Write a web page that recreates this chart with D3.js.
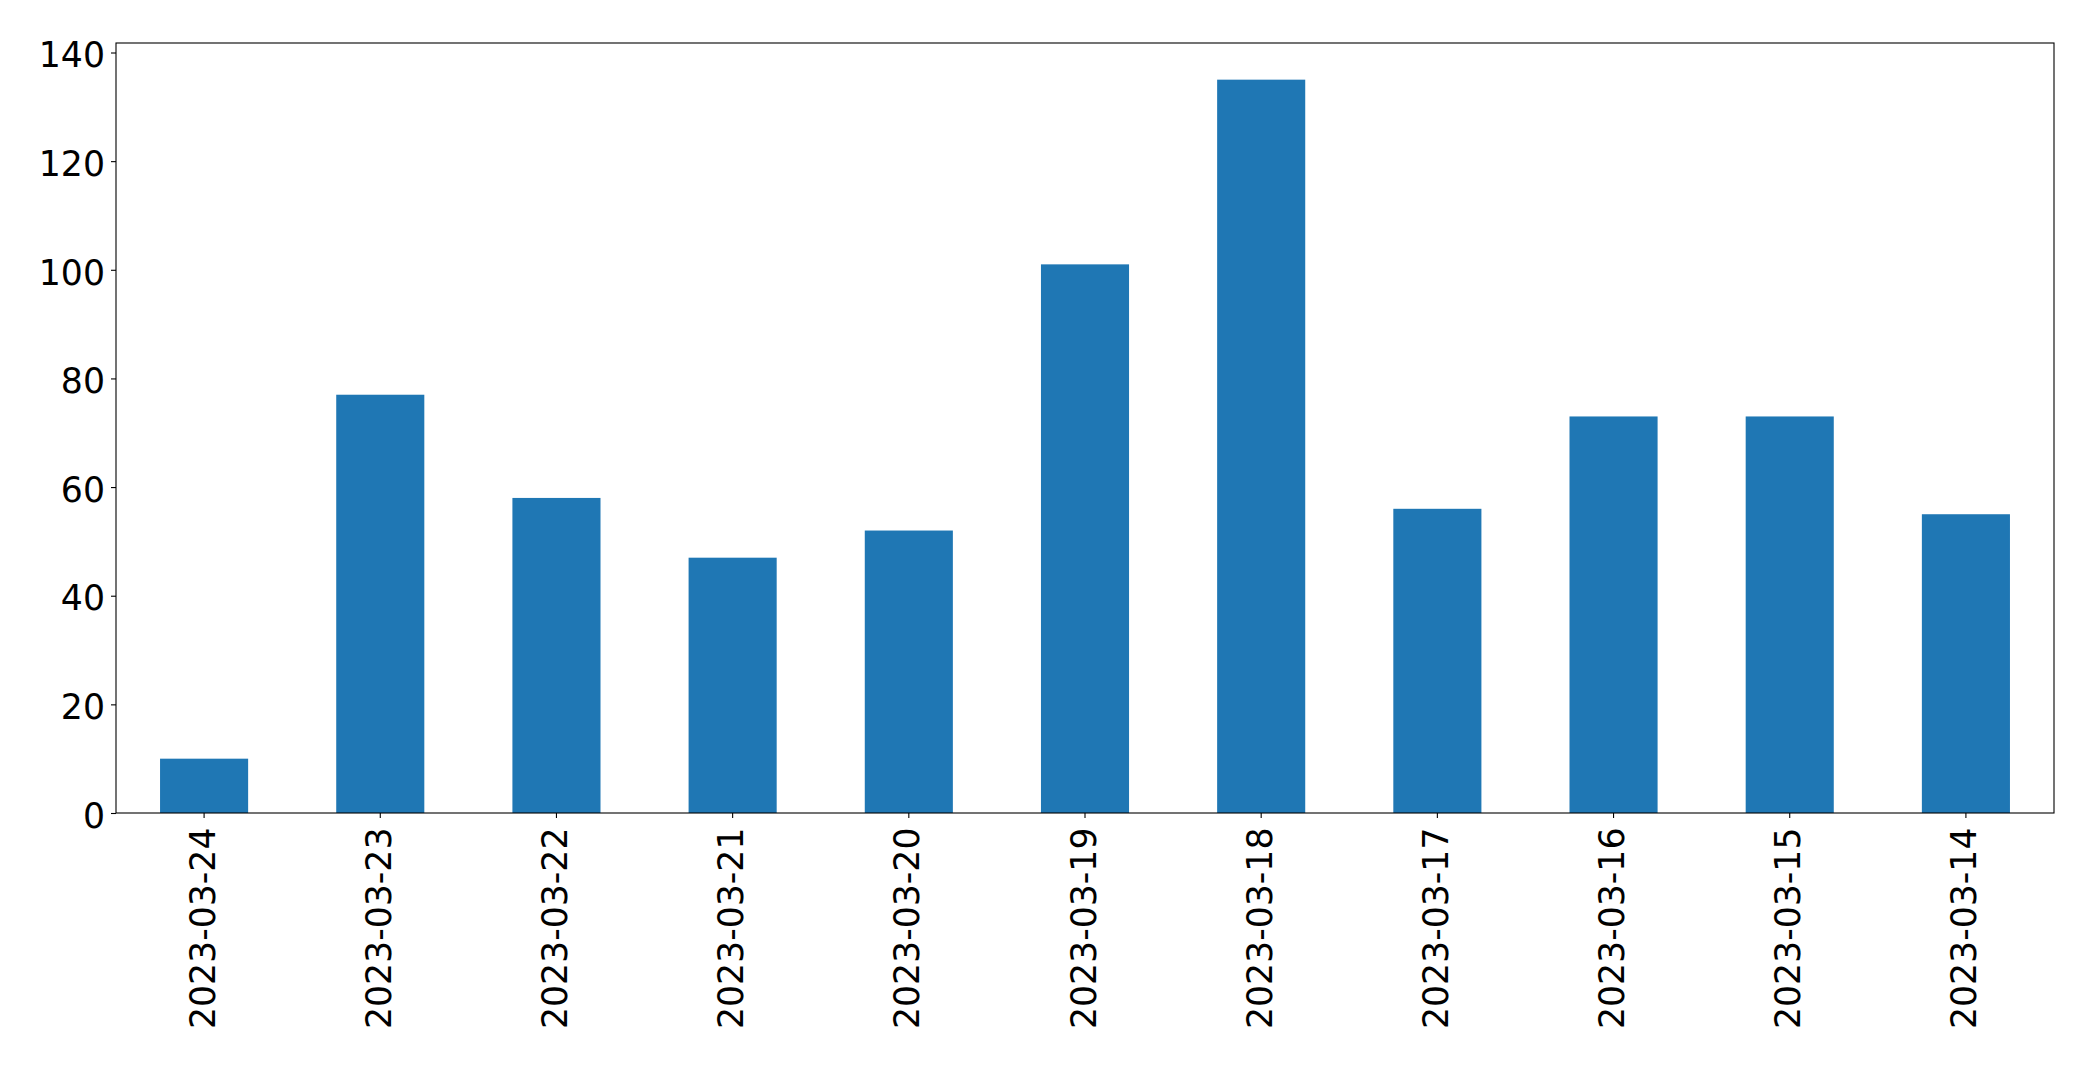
<!DOCTYPE html>
<html>
<head>
<meta charset="utf-8">
<script src="https://cdn.jsdelivr.net/npm/d3@7"></script>
<style>
  html, body { margin: 0; padding: 0; background: #fff; }
  svg { display: block; }
</style>
</head>
<body>
<svg id="chart" width="2093" height="1065"></svg>
<script>
const categories = ["2023-03-24","2023-03-23","2023-03-22","2023-03-21","2023-03-20","2023-03-19","2023-03-18","2023-03-17","2023-03-16","2023-03-15","2023-03-14"];
const values = [10, 77, 58, 47, 52, 101, 135, 56, 73, 73, 55];
const yTicks = [0, 20, 40, 60, 80, 100, 120, 140];

const W = 2093, H = 1065;
const margin = {left: 116, right: 2093 - 2054, top: 43, bottom: 1065 - 813};
const svg = d3.select("#chart");
const font = "DejaVu Sans, sans-serif";
const fs = 34.7;
const tickLen = 5, pad = 6, lw = 1.1;

const x = d3.scaleBand().domain(categories).range([margin.left, W - margin.right]).paddingInner(0.5).paddingOuter(0.25);
const y = d3.scaleLinear().domain([0, d3.max(values) * 1.05]).range([H - margin.bottom, margin.top]);

svg.append("rect").attr("x",0).attr("y",0).attr("width",W).attr("height",H).attr("fill","#fff");

svg.selectAll("rect.bar").data(values).enter().append("rect")
  .attr("class","bar")
  .attr("x",(d,i)=>x(categories[i]))
  .attr("width",x.bandwidth())
  .attr("y",d=>y(d))
  .attr("height",d=>y(0)-y(d))
  .attr("fill","#1f77b4");

// Y axis
const yAxis = svg.append("g").attr("transform",`translate(${margin.left},0)`)
  .call(d3.axisLeft(y).tickValues(yTicks).tickSize(tickLen).tickPadding(pad).tickFormat(d3.format("d")));
yAxis.select(".domain").remove();
yAxis.selectAll("line").attr("stroke","#000").attr("stroke-width",lw);
yAxis.selectAll("text").attr("font-family",font).attr("font-size",fs).attr("fill","#000").attr("dy","0.41em");

// X axis
const xAxis = svg.append("g").attr("transform",`translate(0,${H - margin.bottom})`)
  .call(d3.axisBottom(x).tickSize(tickLen).tickPadding(pad));
xAxis.select(".domain").remove();
xAxis.selectAll("line").attr("stroke","#000").attr("stroke-width",lw);
xAxis.selectAll("text")
  .attr("font-family",font).attr("font-size",fs).attr("fill","#000")
  .attr("text-anchor","end")
  .attr("dy",null)
  .attr("dominant-baseline","central")
  .attr("y",0).attr("x",0)
  .attr("transform",`translate(-1.5,14.5) rotate(-90)`);

// Frame
svg.append("rect")
  .attr("x",margin.left).attr("y",margin.top)
  .attr("width",W - margin.right - margin.left)
  .attr("height",H - margin.bottom - margin.top)
  .attr("fill","none").attr("stroke","#000").attr("stroke-width",lw);
</script>
</body>
</html>
